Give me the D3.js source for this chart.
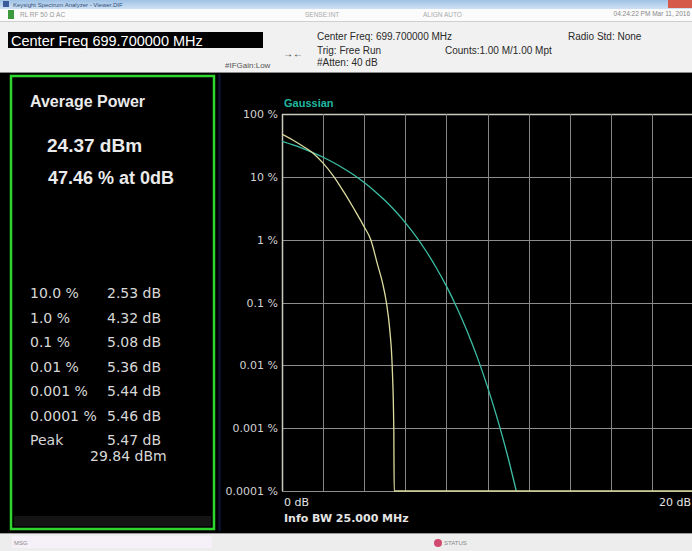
<!DOCTYPE html>
<html>
<head>
<meta charset="utf-8">
<script src="https://cdn.jsdelivr.net/npm/d3@7"></script>
<style>
  html, body { margin: 0; padding: 0; background: #000; }
  svg { display: block; font-family: "Liberation Sans", Arial, sans-serif; }
</style>
</head>
<body>
<div id="chart"></div>
<script>
// y axis ticks (percent of time above level)
var yTickValues = [100, 10, 1, 0.1, 0.01, 0.001, 0.0001];
var yTickLabels = ["100 %", "10 %", "1 %", "0.1 %", "0.01 %", "0.001 %", "0.0001 %"];
var xGridValues = [0, 2, 4, 6, 8, 10, 12, 14, 16, 18, 20];

// measured CCDF trace (dB above average, % probability)
var measDb  = [0, 0.5, 1, 1.5, 2, 2.53, 3, 3.5, 4, 4.32, 4.65, 4.9, 5.08, 5.25, 5.36, 5.44, 5.46, 5.47, 20];
var measPct = [47.46, 39, 31, 24, 16.5, 10, 5.8, 3.1, 1.6, 1.0, 0.4, 0.2, 0.1, 0.035, 0.01, 0.001, 0.0001, 0.0001, 0.0001];

// gaussian reference trace
var gaussDb  = [0, 0.5, 1, 1.5, 2, 2.5, 3, 3.5, 4, 4.5, 5, 5.5, 6, 6.5, 7, 7.5, 8, 8.5, 9, 9.5, 10, 10.5, 11, 11.4];
var gaussPct = [36.8, 32.6, 28.4, 24.3, 20.5, 16.9, 13.6, 10.7, 8.11, 5.97, 4.23, 2.88, 1.87, 1.15, 0.666, 0.361, 0.182, 0.0843, 0.0355, 0.0135, 0.00454, 0.00134, 0.000341, 0.0001];

// statistics panel
var statLabels = ["10.0 %", "1.0 %", "0.1 %", "0.01 %", "0.001 %", "0.0001 %", "Peak"];
var statValues = ["2.53 dB", "4.32 dB", "5.08 dB", "5.36 dB", "5.44 dB", "5.46 dB", "5.47 dB"];

var W = 692, H = 551;
var plot = { left: 282, right: 693, top: 114, bottom: 491 };
var wide = "'DejaVu Sans', Verdana, sans-serif";

var svg = d3.select("#chart").append("svg")
  .attr("width", W)
  .attr("height", H);

var defs = svg.append("defs");
var tg = defs.append("linearGradient").attr("id", "titleGrad").attr("x1", 0).attr("x2", 0).attr("y1", 0).attr("y2", 1);
tg.append("stop").attr("offset", "0%").attr("stop-color", "#9fc2e6");
tg.append("stop").attr("offset", "100%").attr("stop-color", "#cfe1f3");

defs.append("clipPath").attr("id", "plotClip")
  .append("rect")
  .attr("x", plot.left).attr("y", plot.top - 2)
  .attr("width", plot.right - plot.left).attr("height", plot.bottom - plot.top + 4);

// ---- window chrome ----
svg.append("rect").attr("x", 0).attr("y", 0).attr("width", W).attr("height", H).attr("fill", "#000");
svg.append("rect").attr("x", 0).attr("y", 0).attr("width", W).attr("height", 9).attr("fill", "url(#titleGrad)");
svg.append("rect").attr("x", 3).attr("y", 1).attr("width", 6).attr("height", 6).attr("fill", "#3a5a9a");
svg.append("text").attr("x", 13).attr("y", 7).attr("font-size", 6).attr("fill", "#33507a")
  .text("Keysight Spectrum Analyzer - Viewer.DIF");
svg.append("rect").attr("x", 668).attr("y", 0).attr("width", 24).attr("height", 8).attr("fill", "#d65a4a");

svg.append("rect").attr("x", 0).attr("y", 9).attr("width", W).attr("height", 63).attr("fill", "#f1f1f1");
svg.append("rect").attr("x", 0).attr("y", 9).attr("width", W).attr("height", 12).attr("fill", "#fbfbfb");
svg.append("line").attr("x1", 0).attr("x2", W).attr("y1", 21.5).attr("y2", 21.5).attr("stroke", "#cfcfcf");
svg.append("rect").attr("x", 8).attr("y", 10).attr("width", 6).attr("height", 9).attr("fill", "#3c9a3c");
svg.append("text").attr("x", 20).attr("y", 17).attr("font-size", 6.5).attr("fill", "#999")
  .text("RL        RF       50 \u03A9  AC");
svg.append("text").attr("x", 305).attr("y", 17).attr("font-size", 6.5).attr("fill", "#aaa").text("SENSE:INT");
svg.append("text").attr("x", 423).attr("y", 17).attr("font-size", 6.5).attr("fill", "#aaa").text("ALIGN AUTO");
svg.append("text").attr("x", W - 2).attr("y", 16).attr("font-size", 6.5).attr("fill", "#888")
  .attr("text-anchor", "end").text("04:24:22 PM Mar 11, 2016");

// center freq black box
svg.append("rect").attr("x", 8).attr("y", 32).attr("width", 255).attr("height", 16).attr("fill", "#000");
svg.append("text").attr("x", 11).attr("y", 45.5).attr("font-size", 14.5).attr("fill", "#fff")
  .text("Center Freq 699.700000 MHz");

var hdr = svg.append("g").attr("font-size", 10).attr("fill", "#2a2a2a");
hdr.append("text").attr("x", 317).attr("y", 40).text("Center Freq: 699.700000 MHz");
hdr.append("text").attr("x", 317).attr("y", 54).text("Trig: Free Run");
hdr.append("text").attr("x", 317).attr("y", 66).text("#Atten: 40 dB");
hdr.append("text").attr("x", 445).attr("y", 54).text("Counts:1.00 M/1.00 Mpt");
hdr.append("text").attr("x", 568).attr("y", 40).text("Radio Std: None");
hdr.append("text").attr("x", 225).attr("y", 68).attr("font-size", 8).attr("fill", "#555").text("#IFGain:Low");
hdr.append("text").attr("x", 283).attr("y", 57).attr("font-size", 10).text("\u2192\u2190");
svg.append("line").attr("x1", 0).attr("x2", W).attr("y1", 72.5).attr("y2", 72.5).attr("stroke", "#8a8a8a");

// ---- left statistics panel ----
svg.append("rect").attr("x", 11).attr("y", 76).attr("width", 203).attr("height", 453)
  .attr("fill", "#000").attr("stroke", "#2fd42f").attr("stroke-width", 2.5);
svg.append("rect").attr("x", 14).attr("y", 516).attr("width", 197).attr("height", 10).attr("fill", "#151515");
svg.append("line").attr("x1", 219.5).attr("x2", 219.5).attr("y1", 74).attr("y2", 531)
  .attr("stroke", "#10163a").attr("stroke-width", 2);

var panel = svg.append("g").attr("fill", "#eaeaea");
panel.append("text").attr("x", 30).attr("y", 107).attr("font-size", 16).attr("font-weight", "bold")
  .text("Average Power");
panel.append("text").attr("x", 47).attr("y", 152).attr("font-size", 19).attr("font-weight", "bold")
  .text("24.37 dBm");
panel.append("text").attr("x", 48).attr("y", 184).attr("font-size", 18).attr("font-weight", "bold")
  .text("47.46 % at 0dB");

var rowY = d3.scaleLinear().domain([0, statLabels.length - 1]).range([298, 445]);
var table = panel.append("g").attr("font-family", wide).attr("font-size", 14).attr("fill", "#d8d8d8");
table.selectAll("text.slabel").data(statLabels).enter().append("text")
  .attr("class", "slabel")
  .attr("x", 30).attr("y", function (d, i) { return rowY(i); })
  .text(function (d) { return d; });
table.selectAll("text.svalue").data(statValues).enter().append("text")
  .attr("class", "svalue")
  .attr("x", 107).attr("y", function (d, i) { return rowY(i); })
  .text(function (d) { return d; });
table.append("text").attr("x", 90).attr("y", 461).text("29.84 dBm");

// ---- CCDF plot ----
var x = d3.scaleLinear().domain([0, 20]).range([plot.left, plot.right]);
var y = d3.scaleLog().domain([0.0001, 100]).range([plot.bottom, plot.top]);

var grid = svg.append("g").attr("class", "grid");
grid.selectAll("line.h").data(yTickValues).enter().append("line")
  .attr("class", "h")
  .attr("x1", plot.left).attr("x2", plot.right)
  .attr("y1", function (d) { return Math.round(y(d)) + 0.5; })
  .attr("y2", function (d) { return Math.round(y(d)) + 0.5; })
  .attr("stroke", function (d) { return d === 100 ? "#c9c9bd" : "#8d8d8d"; })
  .attr("stroke-width", function (d) { return d === 100 ? 1.6 : 1; });
grid.selectAll("line.v").data(xGridValues).enter().append("line")
  .attr("class", "v")
  .attr("x1", function (d) { return Math.round(x(d)) + 0.5; })
  .attr("x2", function (d) { return Math.round(x(d)) + 0.5; })
  .attr("y1", plot.top).attr("y2", plot.bottom)
  .attr("stroke", function (d) { return d === 0 ? "#c9c9bd" : "#858585"; })
  .attr("stroke-width", function (d) { return d === 0 ? 1.5 : 1; });

var yAxis = d3.axisLeft(y)
  .tickValues(yTickValues)
  .tickSize(0)
  .tickPadding(4)
  .tickFormat(function (d, i) { return yTickLabels[i]; });
var yg = svg.append("g")
  .attr("transform", "translate(" + plot.left + ",0)")
  .call(yAxis);
yg.select(".domain").remove();
yg.selectAll("text")
  .attr("font-family", wide)
  .attr("font-size", 11).attr("fill", "#d2d2d2");

var line = d3.line()
  .x(function (d) { return x(d[0]); })
  .y(function (d) { return y(d[1]); })
  .curve(d3.curveMonotoneX);

var traces = svg.append("g").attr("clip-path", "url(#plotClip)");
traces.append("path")
  .datum(d3.zip(gaussDb, gaussPct))
  .attr("d", line)
  .attr("fill", "none").attr("stroke", "#3cbfa5").attr("stroke-width", 1.3);
traces.append("path")
  .datum(d3.zip(measDb, measPct))
  .attr("d", line)
  .attr("fill", "none").attr("stroke", "#dcdca0").attr("stroke-width", 1.3);

svg.append("text").attr("x", 284).attr("y", 107).attr("font-size", 11).attr("font-weight", "bold")
  .attr("fill", "#22b8a0").text("Gaussian");

var xl = svg.append("g").attr("fill", "#e4e4e4").attr("font-family", wide).attr("font-size", 11);
xl.append("text").attr("x", 284).attr("y", 506).text("0 dB");
xl.append("text").attr("x", 284).attr("y", 522).attr("font-weight", "bold")
  .text("Info BW 25.000 MHz");
xl.append("text").attr("x", W - 1).attr("y", 506).attr("text-anchor", "end").text("20 dB");

// ---- status bar ----
svg.append("rect").attr("x", 0).attr("y", 533).attr("width", W).attr("height", 18).attr("fill", "#ededed");
svg.append("line").attr("x1", 0).attr("x2", W).attr("y1", 533.5).attr("y2", 533.5).attr("stroke", "#9a9a9a");
svg.append("rect").attr("x", 12).attr("y", 536).attr("width", 200).attr("height", 12).attr("fill", "#f6f0f8");
svg.append("text").attr("x", 14).attr("y", 545).attr("font-size", 6).attr("fill", "#888").text("MSG");
svg.append("circle").attr("cx", 438).attr("cy", 543).attr("r", 4).attr("fill", "#d04a70");
svg.append("text").attr("x", 444).attr("y", 545).attr("font-size", 6).attr("fill", "#888").text("STATUS");
</script>
</body>
</html>
